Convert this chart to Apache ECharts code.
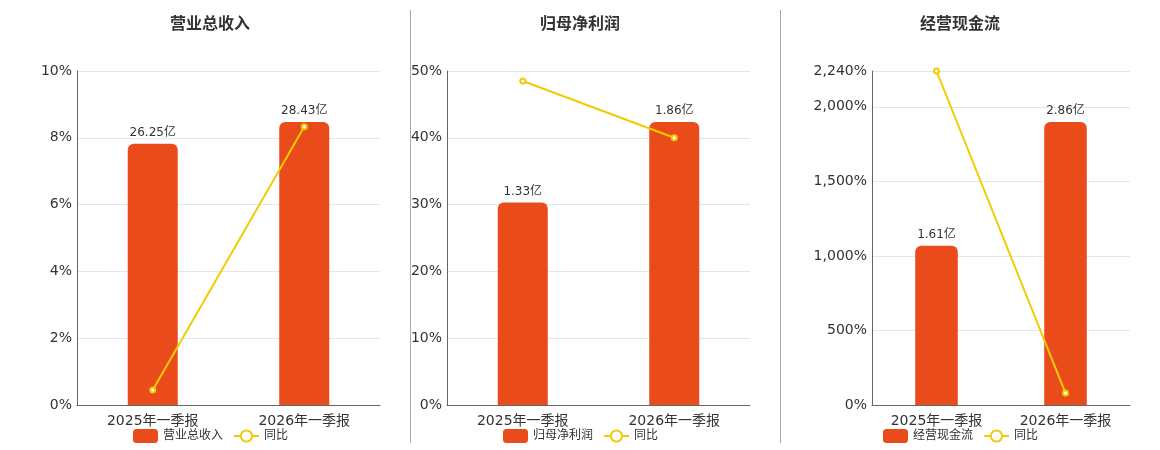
<!DOCTYPE html>
<html>
<head>
<meta charset="utf-8">
<script src="https://cdn.jsdelivr.net/npm/echarts@6/dist/echarts.min.js"></script>
<style>
    html, body { margin: 0; padding: 0; background: #fff; }
    #wrap { position: relative; width: 1160px; height: 450px; }
    .panel { position: absolute; top: 0; height: 450px; }
    .divider { position: absolute; top: 10px; height: 433px; width: 1px; background: #aaa; }
</style>
</head>
<body>
<div id="wrap">
    <div class="panel" id="p1" style="left:0;width:410px;"></div>
    <div class="panel" id="p2" style="left:410px;width:370px;"></div>
    <div class="panel" id="p3" style="left:780px;width:380px;"></div>
    <div class="divider" style="left:410px;"></div>
    <div class="divider" style="left:780px;"></div>
</div>
<script>
    // 报告期
    var categories = ['2025年一季报', '2026年一季报'];

    // 金额（亿）
    var revenue = [26.25, 28.43];
    var netProfit = [1.33, 1.86];
    var cashFlow = [1.61, 2.86];

    // 同比（%）
    var revenueYoy = [0.45, 8.33];
    var netProfitYoy = [48.5, 40.0];
    var cashFlowYoy = [2240, 80];

    var FONT = "'DejaVu Sans', 'Noto Sans CJK SC', sans-serif";
    var BAR_COLOR = '#e94b1b';
    var LINE_COLOR = '#f2cb05';

    function buildOption(cfg) {
        return {
            textStyle: { fontFamily: FONT },
            title: {
                text: cfg.title,
                left: cfg.center - 5,
                textAlign: 'center',
                top: 12,
                textStyle: { fontSize: 16, fontWeight: 'bold', color: '#333', fontFamily: FONT }
            },
            legend: {
                bottom: 2,
                left: cfg.center - 82,
                itemGap: 10,
                textStyle: { fontSize: 12, color: '#333', fontFamily: FONT },
                data: [cfg.name, '同比']
            },
            grid: { left: cfg.left, right: 30, top: 71, bottom: 45, outerBoundsMode: 'none' },
            xAxis: {
                type: 'category',
                data: categories,
                axisLine: { lineStyle: { color: '#666' } },
                axisTick: { lineStyle: { color: '#666' } },
                axisLabel: { fontSize: 14, color: '#333', margin: 9, fontFamily: FONT }
            },
            yAxis: [{
                type: 'value',
                min: 0,
                max: cfg.max,
                interval: cfg.interval,
                axisLine: { show: true, lineStyle: { color: '#666' } },
                axisTick: { show: false },
                splitLine: { lineStyle: { color: '#e0e6f1' } },
                axisLabel: {
                    fontSize: 14,
                    color: '#333',
                    margin: 5,
                    fontFamily: FONT,
                    formatter: function (v) {
                        return v.toLocaleString('en-US') + '%';
                    }
                }
            }, {
                type: 'value',
                show: false,
                min: 0,
                max: function (v) { return v.max * 1.18; },
                splitLine: { show: false }
            }],
            series: [{
                name: cfg.name,
                type: 'bar',
                yAxisIndex: 1,
                barWidth: '33%',
                data: cfg.bars,
                itemStyle: { color: BAR_COLOR, borderRadius: [6, 6, 0, 0] },
                label: {
                    show: true,
                    position: 'top',
                    fontSize: 12,
                    color: '#333',
                    fontFamily: FONT,
                    formatter: function (p) { return p.value.toFixed(2) + '亿'; }
                }
            }, {
                name: '同比',
                type: 'line',
                yAxisIndex: 0,
                data: cfg.yoy,
                symbol: 'emptyCircle',
                symbolSize: 5,
                lineStyle: { color: LINE_COLOR, width: 2 },
                itemStyle: { color: LINE_COLOR, borderWidth: 2 }
            }]
        };
    }

    var panels = [
        { id: 'p1', title: '营业总收入', name: '营业总收入', center: 210, left: 77, max: 10, interval: 2, bars: revenue, yoy: revenueYoy },
        { id: 'p2', title: '归母净利润', name: '归母净利润', center: 170, left: 37, max: 50, interval: 10, bars: netProfit, yoy: netProfitYoy },
        { id: 'p3', title: '经营现金流', name: '经营现金流', center: 180, left: 92, max: 2240, interval: 500, bars: cashFlow, yoy: cashFlowYoy }
    ];

    panels.forEach(function (cfg) {
        var chart = echarts.init(document.getElementById(cfg.id));
        chart.setOption(buildOption(cfg));
    });
</script>
</body>
</html>
